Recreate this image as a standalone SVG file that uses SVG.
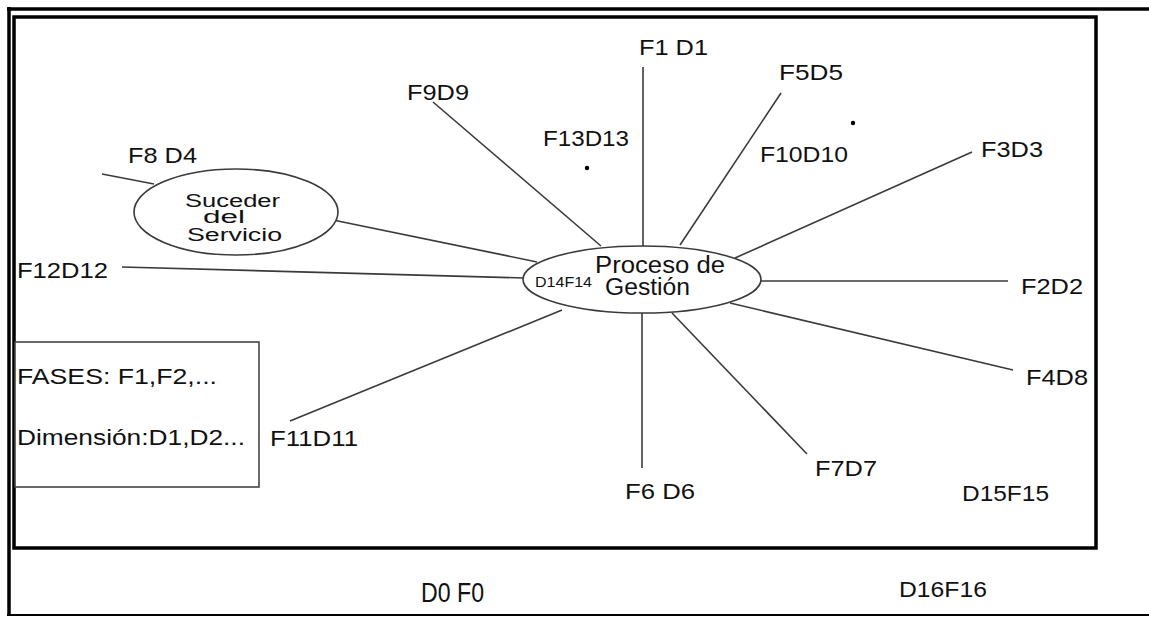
<svg xmlns="http://www.w3.org/2000/svg" width="1149" height="617" viewBox="0 0 1149 617">
<style>
.lbl{font-family:"Liberation Sans",Arial,sans-serif;font-size:22px;fill:#111;}
.sm{font-family:"Liberation Sans",Arial,sans-serif;fill:#111;}
.conn line{stroke:#3a3a3a;stroke-width:1.6;fill:none;}
.node{fill:#fff;stroke:#3a3a3a;stroke-width:1.6;}
.frame{fill:none;stroke:#000;}
</style>
<rect x="0" y="0" width="1149" height="617" fill="#fff"/>
<g id="frames">
<line class="frame" x1="7" y1="9" x2="1149" y2="9" stroke-width="3.5"/>
<line class="frame" x1="9" y1="7" x2="9" y2="616" stroke-width="3.5"/>
<line class="frame" x1="7" y1="615" x2="1149" y2="615" stroke-width="2"/>
<rect class="frame" x="14" y="17" width="1082" height="531" stroke-width="3.5"/>
</g>
<g id="connectors" class="conn">
<line x1="643" y1="67" x2="643" y2="246"/>
<line x1="642" y1="313" x2="642" y2="468"/>
<line x1="781" y1="93" x2="680" y2="245"/>
<line x1="433" y1="102" x2="601" y2="246"/>
<line x1="972" y1="152" x2="735" y2="258"/>
<line x1="761" y1="281" x2="1008" y2="281"/>
<line x1="730" y1="303" x2="1013" y2="370"/>
<line x1="672" y1="313" x2="807" y2="454"/>
<line x1="562" y1="310" x2="290" y2="421"/>
<line x1="122" y1="267" x2="524" y2="278"/>
<line x1="333" y1="220" x2="537" y2="262"/>
<line x1="102" y1="174" x2="154" y2="184"/>
</g>
<g id="node-suceder">
<ellipse class="node" cx="236" cy="212" rx="102" ry="43"/>
<text class="sm" font-size="17.5" x="185" y="207" textLength="95" lengthAdjust="spacingAndGlyphs">Suceder</text>
<text class="sm" font-size="17.5" x="203" y="223" textLength="42" lengthAdjust="spacingAndGlyphs">del</text>
<text class="sm" font-size="17.5" x="187" y="241" textLength="95" lengthAdjust="spacingAndGlyphs">Servicio</text>
</g>
<g id="node-proceso">
<ellipse class="node" cx="642" cy="279.5" rx="119" ry="33.5"/>
<text class="sm" font-size="23" x="595" y="273" textLength="130" lengthAdjust="spacingAndGlyphs">Proceso de</text>
<text class="sm" font-size="23" x="605" y="295" textLength="85" lengthAdjust="spacingAndGlyphs">Gestión</text>
<text class="sm" font-size="15" x="535" y="287" textLength="57" lengthAdjust="spacingAndGlyphs">D14F14</text>
</g>
<g id="legend">
<rect x="15" y="342" width="244" height="145" fill="#fff" stroke="#444" stroke-width="1.6"/>
<text class="lbl" x="17" y="384" textLength="200" lengthAdjust="spacingAndGlyphs">FASES: F1,F2,...</text>
<text class="lbl" x="17" y="445" textLength="228" lengthAdjust="spacingAndGlyphs">Dimensión:D1,D2...</text>
</g>
<g id="labels">
<g id="l-f1d1"><text class="lbl" x="639" y="55" textLength="69" lengthAdjust="spacingAndGlyphs">F1 D1</text></g>
<g id="l-f5d5"><text class="lbl" x="779" y="80" textLength="64" lengthAdjust="spacingAndGlyphs">F5D5</text></g>
<g id="l-f9d9"><text class="lbl" x="407" y="100" textLength="62" lengthAdjust="spacingAndGlyphs">F9D9</text></g>
<g id="l-f13d13"><text class="lbl" x="543" y="146" textLength="86" lengthAdjust="spacingAndGlyphs">F13D13</text><circle cx="587" cy="168" r="2.2" fill="#000"/></g>
<g id="l-f10d10"><text class="lbl" x="760" y="162" textLength="88" lengthAdjust="spacingAndGlyphs">F10D10</text><circle cx="853" cy="123" r="2.2" fill="#000"/></g>
<g id="l-f3d3"><text class="lbl" x="981" y="157" textLength="62" lengthAdjust="spacingAndGlyphs">F3D3</text></g>
<g id="l-f8d4"><text class="lbl" x="128" y="163" textLength="69" lengthAdjust="spacingAndGlyphs">F8 D4</text></g>
<g id="l-f12d12"><text class="lbl" x="17" y="278" textLength="91" lengthAdjust="spacingAndGlyphs">F12D12</text></g>
<g id="l-f2d2"><text class="lbl" x="1021" y="294" textLength="62" lengthAdjust="spacingAndGlyphs">F2D2</text></g>
<g id="l-f4d8"><text class="lbl" x="1026" y="385" textLength="62" lengthAdjust="spacingAndGlyphs">F4D8</text></g>
<g id="l-f11d11"><text class="lbl" x="270" y="446" textLength="88" lengthAdjust="spacingAndGlyphs">F11D11</text></g>
<g id="l-f7d7"><text class="lbl" x="815" y="476" textLength="62" lengthAdjust="spacingAndGlyphs">F7D7</text></g>
<g id="l-f6d6"><text class="lbl" x="625" y="499" textLength="70" lengthAdjust="spacingAndGlyphs">F6 D6</text></g>
<g id="l-d15f15"><text class="lbl" x="962" y="501" textLength="87" lengthAdjust="spacingAndGlyphs">D15F15</text></g>
<g id="l-d0f0"><text class="sm" font-size="27" x="421" y="602" textLength="63" lengthAdjust="spacingAndGlyphs">D0 F0</text></g>
<g id="l-d16f16"><text class="lbl" x="899" y="597" textLength="88" lengthAdjust="spacingAndGlyphs">D16F16</text></g>
</g>
</svg>
